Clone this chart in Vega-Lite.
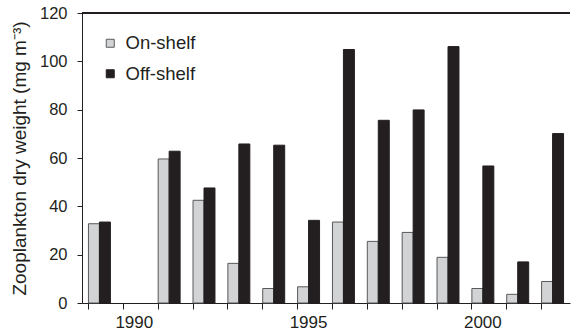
{
  "$schema": "https://vega.github.io/schema/vega-lite/v6.json",
  "autosize": "none",
  "width": 488,
  "height": 290,
  "padding": {"left": 82, "top": 13, "right": 2, "bottom": 32},
  "background": "white",
  "config": {
    "view": {"stroke": null},
    "font": "Liberation Sans",
    "axis": {"labelFont": "Liberation Sans", "titleFont": "Liberation Sans", "labelColor": "#231f20", "titleColor": "#231f20", "domainColor": "#231f20", "tickColor": "#231f20", "grid": false}
  },
  "data": {
    "values": [
      {"year": 1989, "type": "On-shelf", "value": 32.8},
      {"year": 1989, "type": "Off-shelf", "value": 33.5},
      {"year": 1991, "type": "On-shelf", "value": 59.6},
      {"year": 1991, "type": "Off-shelf", "value": 62.8},
      {"year": 1992, "type": "On-shelf", "value": 42.5},
      {"year": 1992, "type": "Off-shelf", "value": 47.6},
      {"year": 1993, "type": "On-shelf", "value": 16.4},
      {"year": 1993, "type": "Off-shelf", "value": 65.8},
      {"year": 1994, "type": "On-shelf", "value": 6.0},
      {"year": 1994, "type": "Off-shelf", "value": 65.3},
      {"year": 1995, "type": "On-shelf", "value": 6.7},
      {"year": 1995, "type": "Off-shelf", "value": 34.2},
      {"year": 1996, "type": "On-shelf", "value": 33.5},
      {"year": 1996, "type": "Off-shelf", "value": 104.9},
      {"year": 1997, "type": "On-shelf", "value": 25.5},
      {"year": 1997, "type": "Off-shelf", "value": 75.6},
      {"year": 1998, "type": "On-shelf", "value": 29.2},
      {"year": 1998, "type": "Off-shelf", "value": 79.9},
      {"year": 1999, "type": "On-shelf", "value": 18.9},
      {"year": 1999, "type": "Off-shelf", "value": 106.1},
      {"year": 2000, "type": "On-shelf", "value": 6.0},
      {"year": 2000, "type": "Off-shelf", "value": 56.7},
      {"year": 2001, "type": "On-shelf", "value": 3.6},
      {"year": 2001, "type": "Off-shelf", "value": 17.0},
      {"year": 2002, "type": "On-shelf", "value": 8.9},
      {"year": 2002, "type": "Off-shelf", "value": 70.1}
    ]
  },
  "layer": [
    {
      "mark": {"type": "bar", "strokeWidth": 1},
      "encoding": {
        "x": {
          "field": "year", "type": "ordinal",
          "scale": {"domain": [1989,1990,1991,1992,1993,1994,1995,1996,1997,1998,1999,2000,2001,2002], "paddingInner": 0.37, "paddingOuter": 0.185},
          "axis": {
            "title": null, "labelAngle": 0, "bandPosition": 0,
            "labelExpr": "indexof(['1990','1995','2000'], datum.label) >= 0 ? datum.label : ''",
            "labelFontSize": 17, "tickSize": 6, "labelPadding": 5, "domainWidth": 1
          }
        },
        "xOffset": {"field": "type", "type": "nominal", "sort": ["On-shelf", "Off-shelf"], "scale": {"paddingInner": 0, "paddingOuter": 0}},
        "y": {
          "field": "value", "type": "quantitative",
          "scale": {"domain": [0, 120], "nice": false},
          "axis": {
            "title": "Zooplankton dry weight (mg m⁻³)", "values": [0,20,40,60,80,100,120],
            "labelFontSize": 16.5, "titleFontSize": 19, "titleFontWeight": "normal",
            "tickSize": 5, "labelPadding": 10, "titlePadding": 10
          }
        },
        "fill": {
          "field": "type", "type": "nominal",
          "scale": {"domain": ["On-shelf", "Off-shelf"], "range": ["#d2d3d5", "#231f20"]},
          "legend": {
            "title": null, "orient": "none", "legendX": 19, "legendY": 21,
            "symbolType": "square", "symbolSize": 64, "symbolStrokeColor": "#444", "symbolStrokeWidth": 1,
            "labelFontSize": 18.5, "labelColor": "#231f20", "rowPadding": 11.5, "labelOffset": 6
          }
        },
        "stroke": {
          "field": "type", "type": "nominal",
          "scale": {"domain": ["On-shelf", "Off-shelf"], "range": ["#58595b", "#231f20"]},
          "legend": null
        }
      }
    },
    {
      "mark": {"type": "rule", "color": "#231f20", "strokeWidth": 1},
      "encoding": {"y": {"datum": 120}}
    }
  ]
}
